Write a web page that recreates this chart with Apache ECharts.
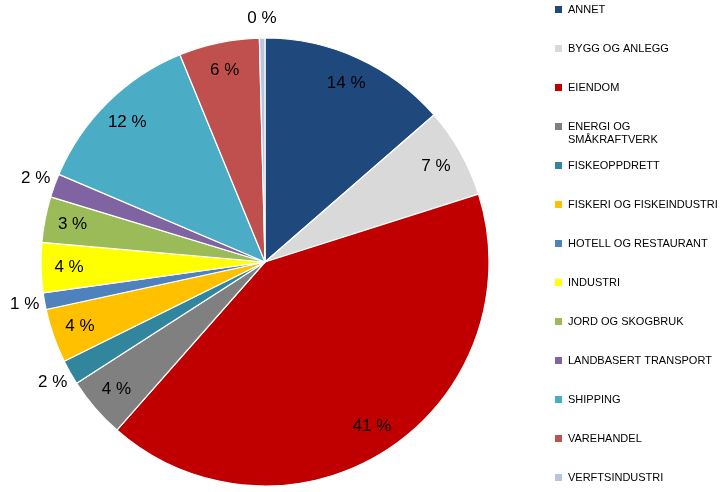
<!DOCTYPE html>
<html>
<head>
<meta charset="utf-8">
<script src="https://cdn.jsdelivr.net/npm/echarts@6/dist/echarts.min.js"></script>
<style>
html,body{margin:0;padding:0;background:#fff;}
#chart{width:728px;height:492px;}
</style>
</head>
<body>
<div id="chart"></div>
<script>
var categories = ['ANNET', 'BYGG OG ANLEGG', 'EIENDOM', 'ENERGI OG SMÅKRAFTVERK', 'FISKEOPPDRETT',
  'FISKERI OG FISKEINDUSTRI', 'HOTELL OG RESTAURANT', 'INDUSTRI', 'JORD OG SKOGBRUK',
  'LANDBASERT TRANSPORT', 'SHIPPING', 'VAREHANDEL', 'VERFTSINDUSTRI'];
var shares = [13.6, 6.5, 41.4, 4.4, 1.8, 3.9, 1.2, 3.6, 3.3, 1.7, 12.4, 5.8, 0.4];
var colors = ['#1F497D', '#D9D9D9', '#C00000', '#808080', '#31859C', '#FFC000', '#4F81BD',
  '#FFFF00', '#9BBB59', '#8064A2', '#4BACC6', '#C0504D', '#B7C6E0'];

var center = [265, 262];
var labelFont = {fontFamily: 'Liberation Sans', fontSize: 17, color: '#000'};

function fmt(p) { return Math.round(p.value) + ' %'; }

var mainData = categories.map(function (c, i) {
  return {name: c, value: shares[i], itemStyle: {color: colors[i]}};
});
function labelData(outside) {
  return categories.map(function (c, i) {
    var small = shares[i] < 2.5;
    return {name: c, value: shares[i], label: {show: outside ? small : !small}};
  });
}

var chart = echarts.init(document.getElementById('chart'));
chart.setOption({
  animation: false,
  legend: {
    orient: 'vertical',
    left: 553,
    top: -10,
    height: 600,
    padding: 0,
    itemGap: 0,
    itemWidth: 9,
    itemHeight: 9,
    icon: 'rect',
    selectedMode: false,
    data: categories,
    textStyle: {fontFamily: 'Liberation Sans', fontSize: 11, color: '#000', lineHeight: 13},
    formatter: function (name) {
      if (name === 'ENERGI OG SMÅKRAFTVERK') return '\nENERGI OG\nSMÅKRAFTVERK';
      return '\n' + name + '\n';
    }
  },
  series: [
    {
      type: 'pie',
      center: center,
      radius: 224,
      startAngle: 90,
      clockwise: true,
      avoidLabelOverlap: false,
      label: {show: false},
      labelLine: {show: false},
      emphasis: {disabled: true},
      itemStyle: {borderColor: '#fff', borderWidth: 1.2},
      data: mainData
    },
    {
      type: 'pie',
      center: center,
      radius: [168, 218],
      startAngle: 90,
      silent: true,
      avoidLabelOverlap: false,
      itemStyle: {color: 'rgba(0,0,0,0)'},
      label: Object.assign({position: 'inside', formatter: fmt}, labelFont),
      labelLine: {show: false},
      emphasis: {disabled: true},
      data: labelData(false)
    },
    {
      type: 'pie',
      center: center,
      radius: [226, 256],
      startAngle: 90,
      silent: true,
      avoidLabelOverlap: false,
      itemStyle: {color: 'rgba(0,0,0,0)'},
      label: Object.assign({position: 'inside', formatter: fmt}, labelFont),
      labelLine: {show: false},
      emphasis: {disabled: true},
      data: labelData(true)
    }
  ]
});
</script>
</body>
</html>
